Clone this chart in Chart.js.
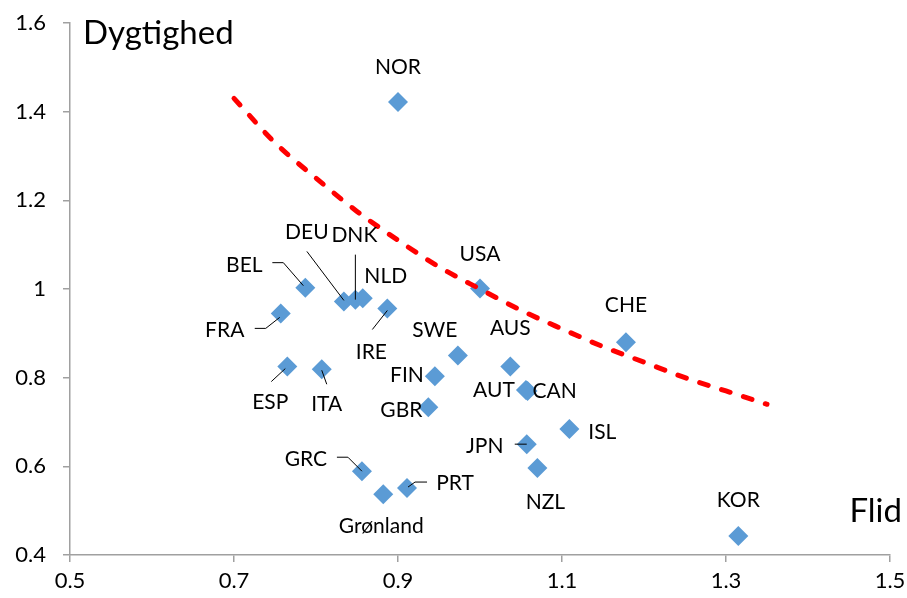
<!DOCTYPE html>
<html>
<head>
<meta charset="utf-8">
<script src="https://cdn.jsdelivr.net/npm/chart.js@4"></script>
<style>
  body { margin: 0; background: #fff; }
  #wrap { width: 907px; height: 598px; }
</style>
</head>
<body>
<div id="wrap"><canvas id="chart" width="907" height="598"></canvas></div>
<script>
// Data
const countries = ['NOR', 'USA', 'CHE', 'BEL', 'FRA', 'DEU', 'DNK', 'NLD', 'IRE', 'SWE', 'FIN', 'GBR',
  'AUS', 'AUT', 'CAN', 'ISL', 'JPN', 'NZL', 'ESP', 'ITA', 'GRC', 'PRT', 'Grønland', 'KOR'];
const flid = [0.900, 1.000, 1.178, 0.787, 0.757, 0.834, 0.848, 0.857, 0.887, 0.973, 0.945, 0.937,
  1.037, 1.056, 1.058, 1.109, 1.057, 1.070, 0.765, 0.807, 0.856, 0.911, 0.882, 1.315];
const dygtighed = [1.422, 1.001, 0.880, 1.003, 0.945, 0.972, 0.976, 0.979, 0.956, 0.850, 0.803, 0.733,
  0.825, 0.772, 0.770, 0.684, 0.650, 0.596, 0.825, 0.819, 0.589, 0.551, 0.537, 0.443];

// red dashed curve
const curveX = [0.70, 0.75, 0.80, 0.85, 0.90, 0.95, 1.00, 1.05, 1.10, 1.15, 1.20, 1.25, 1.30, 1.35];
const curveY = [1.43, 1.33, 1.25, 1.175, 1.11, 1.05, 1.00, 0.952, 0.91, 0.87, 0.835, 0.80, 0.77, 0.74];

const xTicks = [0.5, 0.7, 0.9, 1.1, 1.3, 1.5];
const yTicks = [0.4, 0.6, 0.8, 1.0, 1.2, 1.4, 1.6];

// label placement (pixel offsets from the marker) and leader lines
const labelPos = {
  NOR: { dx: 0, dy: -35 },
  USA: { dx: 0, dy: -34 },
  CHE: { dx: 0, dy: -37 },
  BEL: { dx: -61, dy: -22, line: [[-33, -25], [-22, -25], [-2, -2]] },
  FRA: { dx: -56, dy: 17, line: [[-26, 15], [-15, 15], [-1, 4]] },
  DEU: { dx: -37, dy: -69, line: [[-37, -50], [0, -1]] },
  DNK: { dx: -1, dy: -64, line: [[0, -45], [0, 0]] },
  NLD: { dx: 23, dy: -22 },
  IRE: { dx: -16, dy: 44, line: [[-15, 21], [0, 2]] },
  SWE: { dx: -23, dy: -25 },
  FIN: { dx: -28, dy: -1 },
  GBR: { dx: -27, dy: 3 },
  AUS: { dx: 0, dy: -38 },
  AUT: { dx: -32, dy: 0 },
  CAN: { dx: 27, dy: 0 },
  ISL: { dx: 33, dy: 3 },
  JPN: { dx: -42, dy: 2, line: [[-12, 0], [0, 0]] },
  NZL: { dx: 8, dy: 34 },
  ESP: { dx: -17, dy: 36, line: [[-16, 15], [-2, 2]] },
  ITA: { dx: 5, dy: 35, line: [[0, 1], [5, 15]] },
  GRC: { dx: -56, dy: -12, line: [[-25, -14], [-14, -14], [0, 0]] },
  PRT: { dx: 48, dy: -5, line: [[20, -6], [8, -6], [1, -1]] },
  'Grønland': { dx: -2, dy: 32 },
  KOR: { dx: 0, dy: -36 }
};

const FONT = 'Lato, "Open Sans", sans-serif';
const axisGrey = '#a0a0a0';

const pointLabels = {
  id: 'pointLabels',
  afterDatasetsDraw(chart) {
    const ctx = chart.ctx;
    const meta = chart.getDatasetMeta(1);
    ctx.save();
    ctx.font = '21px ' + FONT;
    ctx.textAlign = 'center';
    ctx.textBaseline = 'middle';
    meta.data.forEach((pt, i) => {
      const name = countries[i];
      const p = labelPos[name];
      if (p.line) {
        ctx.beginPath();
        ctx.strokeStyle = '#000';
        ctx.lineWidth = 1;
        p.line.forEach(([lx, ly], k) => {
          if (k === 0) ctx.moveTo(pt.x + lx, pt.y + ly);
          else ctx.lineTo(pt.x + lx, pt.y + ly);
        });
        ctx.stroke();
      }
      ctx.fillStyle = '#000';
      ctx.fillText(name, pt.x + p.dx, pt.y + p.dy);
    });
    ctx.restore();
  },
  afterDraw(chart) {
    const ctx = chart.ctx;
    const a = chart.chartArea;
    ctx.save();
    ctx.fillStyle = '#000';
    ctx.textBaseline = 'middle';
    ctx.font = '33px ' + FONT;
    ctx.textAlign = 'left';
    ctx.fillText('Dygtighed', a.left + 13, a.top + 10);
    ctx.textAlign = 'right';
    ctx.fillText('Flid', a.right + 12, a.bottom - 44);
    ctx.restore();
  }
};

new Chart(document.getElementById('chart'), {
  type: 'scatter',
  data: {
    datasets: [
      {
        type: 'line',
        data: curveX.map((x, i) => ({ x: x, y: curveY[i] })),
        borderColor: '#ff0000',
        borderWidth: 5,
        borderDash: [9, 14],
        borderCapStyle: 'round',
        cubicInterpolationMode: 'monotone',
        pointRadius: 0,
        fill: false
      },
      {
        data: flid.map((x, i) => ({ x: x, y: dygtighed[i] })),
        pointStyle: 'rectRot',
        pointRadius: 10,
        pointBackgroundColor: '#5b9bd5',
        pointBorderColor: '#5b9bd5',
        pointBorderWidth: 0
      }
    ]
  },
  options: {
    responsive: false,
    animation: false,
    layout: { padding: { top: 23, right: 17, left: 0, bottom: 0 }, autoPadding: false },
    plugins: { legend: { display: false }, tooltip: { enabled: false } },
    scales: {
      x: {
        type: 'linear',
        min: 0.5,
        max: 1.5,
        afterBuildTicks: s => { s.ticks = xTicks.map(v => ({ value: v })); },
        afterFit: s => { s.height = 43; s.paddingLeft = 0; s.paddingRight = 0; },
        grid: { drawOnChartArea: false, drawTicks: true, tickLength: 7, color: axisGrey, lineWidth: 1.5 },
        border: { color: axisGrey, width: 1.5 },
        ticks: { color: '#000', font: { family: FONT, size: 22 }, padding: 6, callback: v => String(v) }
      },
      y: {
        min: 0.4,
        max: 1.6,
        afterBuildTicks: s => { s.ticks = yTicks.map(v => ({ value: v })); },
        afterFit: s => { s.width = 70; s.paddingTop = 0; s.paddingBottom = 0; },
        grid: { drawOnChartArea: false, drawTicks: true, tickLength: 7, color: axisGrey, lineWidth: 1.5 },
        border: { color: axisGrey, width: 1.5 },
        ticks: { color: '#000', font: { family: FONT, size: 22 }, padding: 17, callback: v => String(v) }
      }
    }
  },
  plugins: [pointLabels]
});
</script>
</body>
</html>
